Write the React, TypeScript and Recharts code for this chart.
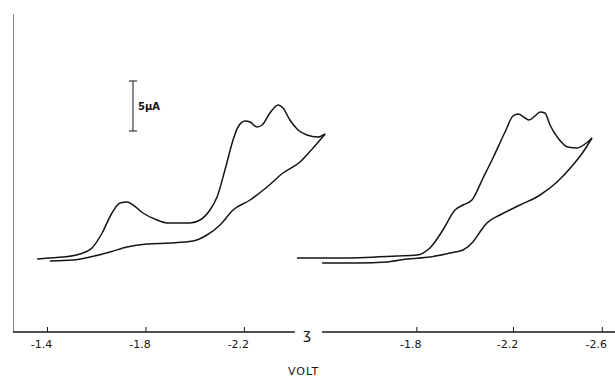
import React from 'react';
import { LineChart, Line, XAxis, YAxis, ReferenceLine } from 'recharts';

// potential (V) vs current (uA, relative to baseline)
const leftForward = [
  { v: -1.358, i: -0.1 }, { v: -1.402, i: 0 }, { v: -1.463, i: 0.1 }, { v: -1.532, i: 0.4 },
  { v: -1.581, i: 1.0 }, { v: -1.622, i: 2.5 }, { v: -1.662, i: 4.5 }, { v: -1.695, i: 5.5 },
  { v: -1.723, i: 5.6 }, { v: -1.748, i: 5.3 }, { v: -1.788, i: 4.5 }, { v: -1.845, i: 3.8 },
  { v: -1.886, i: 3.5 }, { v: -1.979, i: 3.5 }, { v: -2.02, i: 3.8 }, { v: -2.06, i: 4.8 },
  { v: -2.089, i: 6.1 }, { v: -2.121, i: 8.8 }, { v: -2.154, i: 11.8 }, { v: -2.174, i: 13.1 },
  { v: -2.203, i: 13.7 }, { v: -2.223, i: 13.6 }, { v: -2.251, i: 13.1 }, { v: -2.272, i: 13.3 },
  { v: -2.304, i: 14.5 }, { v: -2.337, i: 15.3 }, { v: -2.357, i: 15.0 }, { v: -2.385, i: 13.8 },
  { v: -2.418, i: 12.8 }, { v: -2.454, i: 12.3 }, { v: -2.499, i: 12.1 }, { v: -2.528, i: 12.4 },
];

const leftReverse = [
  { v: -1.41, i: -0.3 }, { v: -1.504, i: -0.2 }, { v: -1.573, i: 0.1 }, { v: -1.654, i: 0.6 },
  { v: -1.723, i: 1.1 }, { v: -1.804, i: 1.4 }, { v: -1.898, i: 1.5 }, { v: -1.991, i: 1.7 },
  { v: -2.048, i: 2.3 }, { v: -2.101, i: 3.3 }, { v: -2.154, i: 4.8 }, { v: -2.223, i: 5.8 },
  { v: -2.292, i: 7.1 }, { v: -2.357, i: 8.5 }, { v: -2.426, i: 9.6 }, { v: -2.479, i: 11.0 },
  { v: -2.528, i: 12.4 },
];

const rightForward = [
  { v: -1.304, i: 0 }, { v: -1.482, i: 0 }, { v: -1.718, i: 0.2 }, { v: -1.801, i: 0.3 },
  { v: -1.854, i: 1.0 }, { v: -1.908, i: 2.8 }, { v: -1.958, i: 4.8 }, { v: -1.991, i: 5.3 },
  { v: -2.028, i: 5.8 }, { v: -2.074, i: 8.0 }, { v: -2.115, i: 10.0 }, { v: -2.165, i: 12.6 },
  { v: -2.198, i: 14.2 }, { v: -2.219, i: 14.4 }, { v: -2.248, i: 14.0 }, { v: -2.264, i: 13.8 },
  { v: -2.289, i: 14.2 }, { v: -2.31, i: 14.6 }, { v: -2.33, i: 14.5 }, { v: -2.351, i: 13.3 },
  { v: -2.384, i: 12.0 }, { v: -2.425, i: 11.1 }, { v: -2.463, i: 11.0 }, { v: -2.496, i: 11.4 },
  { v: -2.525, i: 12.0 },
];

const rightReverse = [
  { v: -1.408, i: -0.5 }, { v: -1.552, i: -0.5 }, { v: -1.677, i: -0.4 }, { v: -1.759, i: -0.1 },
  { v: -1.854, i: 0.1 }, { v: -1.937, i: 0.5 }, { v: -1.991, i: 0.8 }, { v: -2.032, i: 1.6 },
  { v: -2.061, i: 2.6 }, { v: -2.09, i: 3.5 }, { v: -2.144, i: 4.3 }, { v: -2.227, i: 5.3 },
  { v: -2.31, i: 6.3 }, { v: -2.38, i: 7.6 }, { v: -2.446, i: 9.3 }, { v: -2.488, i: 10.6 },
  { v: -2.525, i: 12.0 },
];

const leftTicks = [-1.4, -1.8, -2.2];
const rightTicks = [-1.8, -2.2, -2.6];

const leftDomain = [-2.56, -1.26];
const rightDomain = [-2.62, -1.3];
const currentDomain = [-7.4, 24.4];

const INK = '#151515';
const FONT = '"DejaVu Sans", sans-serif';

// tick mark points up into the plot, label sits below
const VoltTick = (props: any) => {
  const { x, y, payload } = props;
  return (
    <g>
      <line x1={x} x2={x} y1={y} y2={y - 5} stroke={INK} strokeWidth={1} />
      <text x={x - 6} y={y + 16} textAnchor="middle" fontSize={11} fontFamily={FONT} fill={INK}>
        {Number(payload.value).toFixed(1)}
      </text>
    </g>
  );
};

const lineProps = {
  type: 'monotone' as const,
  dataKey: 'i',
  stroke: INK,
  strokeWidth: 1.5,
  dot: false,
  isAnimationActive: false,
};

export default function App() {
  return (
    <div
      style={{
        position: 'absolute',
        left: 0,
        top: 0,
        width: 615,
        height: 381,
        background: '#fff',
        fontFamily: FONT,
      }}
    >
      {/* left panel */}
      <div style={{ position: 'absolute', left: 13, top: 14 }}>
        <LineChart width={320} height={348} margin={{ top: 0, right: 0, bottom: 0, left: 0 }}>
          <XAxis
            type="number"
            dataKey="v"
            domain={leftDomain}
            reversed
            allowDataOverflow
            ticks={leftTicks}
            axisLine={false}
            tickLine={false}
            tickSize={0}
            tickMargin={0}
            tick={<VoltTick />}
          />
          <YAxis type="number" domain={currentDomain} allowDataOverflow hide />
          <ReferenceLine x={-1.26} stroke={INK} strokeWidth={1} ifOverflow="visible" />
          <ReferenceLine
            segment={[{ x: -1.26, y: -7.4 }, { x: -2.405, y: -7.4 }]}
            stroke={INK}
            strokeWidth={1.5}
            ifOverflow="visible"
          />
          {/* 5 uA scale bar */}
          <ReferenceLine
            segment={[{ x: -1.7475, y: 12.7 }, { x: -1.7475, y: 17.7 }]}
            stroke={INK}
            strokeWidth={1}
            label={{ value: '5μA', position: 'right', fontSize: 10, fontWeight: 'bold', fill: INK, fontFamily: FONT }}
          />
          <ReferenceLine segment={[{ x: -1.731, y: 17.7 }, { x: -1.764, y: 17.7 }]} stroke={INK} strokeWidth={1} />
          <ReferenceLine segment={[{ x: -1.731, y: 12.7 }, { x: -1.764, y: 12.7 }]} stroke={INK} strokeWidth={1} />
          <Line data={leftForward} {...lineProps} />
          <Line data={leftReverse} {...lineProps} />
        </LineChart>
      </div>

      {/* right panel */}
      <div style={{ position: 'absolute', left: 296, top: 14 }}>
        <LineChart width={319} height={348} margin={{ top: 0, right: 0, bottom: 0, left: 0 }}>
          <XAxis
            type="number"
            dataKey="v"
            domain={rightDomain}
            reversed
            allowDataOverflow
            ticks={rightTicks}
            axisLine={false}
            tickLine={false}
            tickSize={0}
            tickMargin={0}
            tick={<VoltTick />}
          />
          <YAxis type="number" domain={currentDomain} allowDataOverflow hide />
          <ReferenceLine
            segment={[{ x: -1.408, y: -7.4 }, { x: -2.62, y: -7.4 }]}
            stroke={INK}
            strokeWidth={1.5}
            ifOverflow="visible"
          />
          <Line data={rightForward} {...lineProps} />
          <Line data={rightReverse} {...lineProps} />
        </LineChart>
      </div>

      {/* axis break mark */}
      <div style={{ position: 'absolute', left: 303, top: 327, fontSize: 14, lineHeight: '14px', color: INK }}>
        ʒ
      </div>
      <div
        style={{
          position: 'absolute',
          left: 288,
          top: 366,
          fontSize: 11,
          lineHeight: '11px',
          letterSpacing: 1,
          color: INK,
        }}
      >
        VOLT
      </div>
    </div>
  );
}
